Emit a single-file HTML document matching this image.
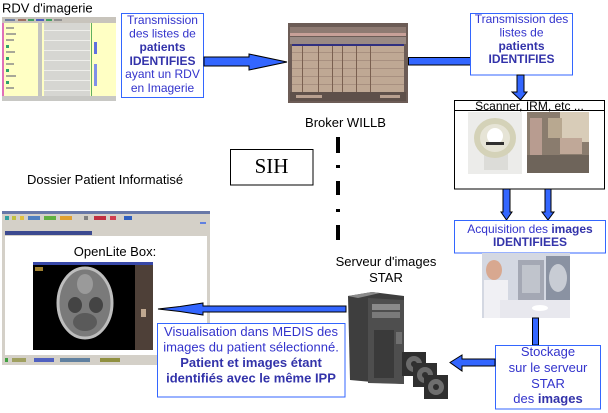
<!DOCTYPE html>
<html><head><meta charset="utf-8">
<style>
html,body{margin:0;padding:0;background:#fff;}
svg{display:block;}
text{font-family:"Liberation Sans",Arial,sans-serif;}
</style></head><body>
<svg width="608" height="413" viewBox="0 0 608 413" xmlns="http://www.w3.org/2000/svg">
<rect width="608" height="413" fill="#fff"/>

<!-- OpenLite window (drawn first, behind box & arrow) -->
<g shape-rendering="crispEdges">
<rect x="2" y="211" width="208" height="154" fill="#d4d0c8"/>
<rect x="2" y="211" width="208" height="3" fill="#6878a8"/>
<rect x="5" y="216" width="4" height="4" fill="#30a0a0"/>
<rect x="12" y="216" width="4" height="4" fill="#c0c040"/>
<rect x="20" y="216" width="4" height="4" fill="#e0c040"/>
<rect x="28" y="216" width="12" height="4" fill="#5080c0"/>
<rect x="44" y="216" width="12" height="4" fill="#60b040"/>
<rect x="60" y="216" width="12" height="4" fill="#e0a030"/>
<rect x="84" y="216" width="4" height="4" fill="#808080"/>
<rect x="94" y="216" width="12" height="4" fill="#c03040"/>
<rect x="110" y="216" width="6" height="4" fill="#d04050"/>
<rect x="124" y="216" width="8" height="4" fill="#3060c0"/>
<rect x="200" y="222" width="6" height="2" fill="#6080e0"/>
<rect x="5" y="231" width="87" height="4" fill="#3c4a90"/>
<rect x="5" y="236" width="202" height="119" fill="#ffffff"/>
<rect x="5" y="358" width="3" height="4" fill="#40a040"/>
<rect x="12" y="358" width="14" height="4" fill="#a0a060"/>
<rect x="34" y="358" width="20" height="4" fill="#5060c0"/>
<rect x="60" y="358" width="30" height="4" fill="#6080a0"/>
<rect x="100" y="358" width="20" height="4" fill="#909040"/>
</g>
<text x="115" y="256" font-size="13" fill="#000" text-anchor="middle">OpenLite Box:</text>
<g>
<rect x="33" y="262" width="120" height="88" fill="#000"/>
<rect x="33" y="262" width="120" height="3" fill="#3848a8"/>
<rect x="135" y="265" width="18" height="85" fill="#4e4038"/>
<rect x="141" y="309" width="5" height="8" fill="#c0a890"/>
<rect x="35" y="267" width="8" height="4" fill="#a08030"/>
<ellipse cx="85" cy="303" rx="27" ry="35" fill="#7a7a7a" stroke="#bdbdbd" stroke-width="3"/>
<ellipse cx="85" cy="284" rx="8" ry="10" fill="#9a9a9a"/>
<ellipse cx="75" cy="305" rx="7" ry="8" fill="#444"/>
<ellipse cx="96" cy="305" rx="7" ry="8" fill="#444"/>
<ellipse cx="85" cy="322" rx="12" ry="9" fill="#5a5a5a"/>
</g>

<!-- RDV screenshot -->
<text x="2" y="12.5" font-size="13" fill="#000">RDV d'imagerie</text>
<g shape-rendering="crispEdges">
<rect x="2" y="17" width="114" height="84" fill="#ffffc4"/>
<rect x="2" y="17" width="114" height="6" fill="#c8c4bc"/>
<rect x="5" y="19" width="10" height="2" fill="#7080a0"/>
<rect x="18" y="19" width="8" height="2" fill="#a07060"/>
<rect x="28" y="19" width="6" height="2" fill="#40a060"/>
<rect x="36" y="19" width="8" height="2" fill="#5060c0"/>
<rect x="46" y="19" width="6" height="2" fill="#40a060"/>
<rect x="54" y="19" width="8" height="2" fill="#909090"/>
<rect x="2" y="23" width="2" height="74" fill="#e070b8"/>
<rect x="38" y="23" width="4" height="74" fill="#c4c4c0"/>
<rect x="44" y="23" width="46" height="74" fill="#d6d6d2"/>
<rect x="44" y="30" width="46" height="1" fill="#eeeeea"/>
<rect x="44" y="40" width="46" height="1" fill="#eeeeea"/>
<rect x="44" y="50" width="46" height="1" fill="#eeeeea"/>
<rect x="44" y="60" width="46" height="1" fill="#eeeeea"/>
<rect x="44" y="70" width="46" height="1" fill="#eeeeea"/>
<rect x="44" y="80" width="46" height="1" fill="#eeeeea"/>
<rect x="44" y="90" width="46" height="1" fill="#eeeeea"/>
<rect x="6" y="27" width="8" height="2" fill="#a8a898"/>
<rect x="6" y="33" width="10" height="2" fill="#a8a898"/>
<rect x="6" y="39" width="8" height="2" fill="#a8a898"/>
<rect x="6" y="45" width="3" height="3" fill="#30a070"/>
<rect x="6" y="51" width="9" height="2" fill="#a8a898"/>
<rect x="6" y="57" width="3" height="3" fill="#30a070"/>
<rect x="6" y="63" width="8" height="2" fill="#a8a898"/>
<rect x="6" y="69" width="3" height="3" fill="#30a070"/>
<rect x="6" y="75" width="10" height="2" fill="#a8a898"/>
<rect x="6" y="81" width="3" height="3" fill="#30a070"/>
<rect x="6" y="87" width="8" height="2" fill="#a8a898"/>
<rect x="91" y="23" width="1" height="74" fill="#60b060"/>
<rect x="94" y="42" width="3" height="12" fill="#6070e0"/>
<rect x="94" y="64" width="3" height="22" fill="#8090e8"/>
<rect x="2" y="96" width="114" height="5" fill="#c8c8c4"/>
</g>

<!-- Box 1 -->
<rect x="121.5" y="13.5" width="82" height="84" fill="#fff" stroke="#3366ff" stroke-width="1"/>
<g font-size="12" fill="#3333cc" text-anchor="middle">
<text x="162.5" y="24">Transmission</text>
<text x="162.5" y="37.5">des listes de</text>
<text x="162.5" y="51" font-weight="bold" fill="#3333aa">patients</text>
<text x="162.5" y="65" font-weight="bold" fill="#3333aa">IDENTIFIES</text>
<text x="162.5" y="78">ayant un RDV</text>
<text x="162.5" y="92">en Imagerie</text>
</g>

<!-- Arrow 1 -->
<polygon points="204,57 249,57 249,54 287,62 249,70 249,66 204,66" fill="#3366ff" stroke="#000" stroke-width="1"/>

<!-- Broker screenshot -->
<g shape-rendering="crispEdges">
<rect x="288" y="23" width="120" height="80" fill="#6c5c56"/>
<rect x="290" y="27" width="116" height="6" fill="#8e7a72"/>
<rect x="290" y="33" width="116" height="3" fill="#c8a098"/>
<rect x="290" y="37" width="116" height="7" fill="#9a8a84"/>
<rect x="292" y="44" width="112" height="2" fill="#303080"/>
<rect x="292" y="46" width="112" height="46" fill="#bfa894"/>
<rect x="292" y="52" width="112" height="1" fill="#a89080"/>
<rect x="292" y="60" width="112" height="1" fill="#a89080"/>
<rect x="292" y="68" width="112" height="1" fill="#a89080"/>
<rect x="292" y="76" width="112" height="1" fill="#a89080"/>
<rect x="292" y="84" width="112" height="1" fill="#a89080"/>
<rect x="302" y="46" width="1" height="46" fill="#7a6050"/>
<rect x="318" y="46" width="1" height="46" fill="#7a6050"/>
<rect x="332" y="46" width="1" height="46" fill="#7a6050"/>
<rect x="342" y="46" width="1" height="46" fill="#7a6050"/>
<rect x="356" y="46" width="1" height="46" fill="#7a6050"/>
<rect x="370" y="46" width="1" height="46" fill="#7a6050"/>
<rect x="290" y="92" width="116" height="9" fill="#5e504a"/>
<rect x="296" y="95" width="26" height="3" fill="#b8a090"/>
<rect x="380" y="95" width="20" height="3" fill="#b8a090"/>
</g>
<text x="345.5" y="127" font-size="13" fill="#000" text-anchor="middle">Broker WILLB</text>

<!-- connector broker -> box 2 -->
<rect x="408.5" y="57.5" width="62" height="7.5" fill="#3366ff" stroke="#000" stroke-width="1"/>

<!-- Box 2 -->
<rect x="470.5" y="13.5" width="102" height="61.5" fill="#fff" stroke="#3366ff" stroke-width="1"/>
<g font-size="12" fill="#3333cc" text-anchor="middle">
<text x="521.5" y="23">Transmission des</text>
<text x="521.5" y="36.5">listes de</text>
<text x="521.5" y="50" font-weight="bold" fill="#3333aa">patients</text>
<text x="521.5" y="63" font-weight="bold" fill="#3333aa">IDENTIFIES</text>
</g>

<!-- Down arrow into scanner -->
<polygon points="517,75 524,75 524,92 527,92 520.5,100 512,92 517,92" fill="#3366ff" stroke="#000" stroke-width="1"/>

<!-- Scanner box -->
<rect x="454.5" y="100.5" width="150" height="88.5" fill="#fff" stroke="#000" stroke-width="1"/>
<text x="529.5" y="110" font-size="12" fill="#000" text-anchor="middle">Scanner, IRM, etc ...</text>
<line x1="454.5" y1="110.5" x2="604.5" y2="110.5" stroke="#000" stroke-width="1"/>
<!-- CT image -->
<rect x="468" y="112" width="54" height="62" fill="#ececea"/>
<rect x="484" y="148" width="24" height="22" fill="#dcdcd8"/>
<ellipse cx="495" cy="138" rx="18" ry="17" fill="#e6e4d6" stroke="#d4d2b8" stroke-width="6"/>
<ellipse cx="495" cy="136" rx="8" ry="8" fill="#ffffff"/>
<rect x="486" y="142" width="18" height="3" fill="#303030"/>
<!-- room photo -->
<rect x="527" y="112" width="62" height="61" fill="#8a7c6e"/>
<rect x="560" y="112" width="29" height="30" fill="#d8ccb8"/>
<rect x="548" y="118" width="14" height="20" fill="#b8a890"/>
<rect x="530" y="118" width="12" height="50" fill="#b89c90"/>
<rect x="527" y="155" width="62" height="18" fill="#6e645a"/>
<rect x="560" y="138" width="22" height="16" fill="#c0a898"/>

<!-- two down arrows -->
<polygon points="503,189 510,189 510,212 512,212 506.5,220 501,212 503,212" fill="#3366ff" stroke="#000" stroke-width="1"/>
<polygon points="545,189 551,189 551,212 554,212 548,220 542,212 545,212" fill="#3366ff" stroke="#000" stroke-width="1"/>

<!-- Acquisition box -->
<rect x="454.5" y="220.5" width="151" height="32.5" fill="#fff" stroke="#3366ff" stroke-width="1"/>
<g font-size="12" fill="#3333cc" text-anchor="middle">
<text x="530" y="233">Acquisition des <tspan font-weight="bold" fill="#3333aa">images</tspan></text>
<text x="530" y="246" font-weight="bold" fill="#3333aa">IDENTIFIEES</text>
</g>

<!-- Acquisition photo -->
<rect x="482" y="253" width="88" height="65" fill="#d4d8e2"/>
<rect x="518" y="260" width="26" height="40" fill="#a4a8b4"/>
<rect x="546" y="256" width="24" height="44" fill="#8a92a2"/>
<ellipse cx="558" cy="278" rx="9" ry="14" fill="#c8ccd4"/>
<rect x="522" y="265" width="18" height="28" fill="#c0c4cc"/>
<ellipse cx="494" cy="270" rx="8" ry="10" fill="#d8a890"/>
<rect x="484" y="280" width="24" height="38" fill="#f0f0f4"/>
<rect x="500" y="300" width="70" height="18" fill="#e8e8ee"/>
<ellipse cx="540" cy="308" rx="8" ry="3" fill="#ffffff"/>

<!-- connector photo -> stockage -->
<rect x="532.5" y="318" width="6" height="27" fill="#3366ff" stroke="#000" stroke-width="1"/>

<!-- Stockage box -->
<rect x="495.5" y="345.5" width="105" height="63.5" fill="#fff" stroke="#3366ff" stroke-width="1"/>
<g font-size="13" fill="#3333cc" text-anchor="middle">
<text x="548" y="356">Stockage</text>
<text x="548" y="372">sur le serveur</text>
<text x="548" y="388">STAR</text>
<text x="548" y="403">des <tspan font-weight="bold" fill="#3333aa">images</tspan></text>
</g>

<!-- arrow stockage -> server -->
<polygon points="495,359 462,359 462,355 450,362.5 462,371 462,366 495,366" fill="#3366ff" stroke="#000" stroke-width="1"/>

<!-- Server -->
<text x="386" y="266" font-size="13" fill="#000" text-anchor="middle">Serveur d'images</text>
<text x="386" y="282" font-size="13" fill="#000" text-anchor="middle">STAR</text>
<polygon points="348,296 372,292 404,296 404,384 372,382 350,380" fill="#3e3e3e"/>
<polygon points="348,296 372,292 380,293 358,298" fill="#8a8a8a"/>
<polygon points="368,298 404,300 404,384 368,383" fill="#4e4e4e"/>
<rect x="372" y="304" width="28" height="6" fill="#8a8a8a"/>
<rect x="372" y="312" width="28" height="6" fill="#7a7a7a"/>
<rect x="374" y="330" width="20" height="48" fill="#3a3a3a"/>
<rect x="396" y="332" width="6" height="12" fill="#707070"/>
<g>
<rect x="402" y="352" width="24" height="24" fill="#2e2e2e"/>
<circle cx="414" cy="364" r="8" fill="#6a6a6a"/>
<circle cx="414" cy="364" r="3" fill="#2e2e2e"/>
<rect x="413" y="363" width="24" height="24" fill="#303030"/>
<circle cx="425" cy="375" r="8" fill="#6a6a6a"/>
<circle cx="425" cy="375" r="3" fill="#303030"/>
<rect x="424" y="375" width="24" height="24" fill="#2e2e2e"/>
<circle cx="436" cy="387" r="8" fill="#6e6e6e"/>
<circle cx="436" cy="387" r="3" fill="#2e2e2e"/>
</g>

<!-- long left arrow -->
<polygon points="158,309 180,306.5 203,303 203,306 346,306 346,312 203,312 203,315 180,311.5" fill="#3366ff" stroke="#000" stroke-width="1"/>

<!-- Visualisation box -->
<rect x="157.5" y="323.5" width="187.5" height="73.5" fill="#fff" stroke="#3366ff" stroke-width="1"/>
<g font-size="13" fill="#3333cc" text-anchor="middle">
<text x="251" y="336">Visualisation dans MEDIS des</text>
<text x="251" y="351.5">images du patient sélectionné.</text>
<text x="251" y="367" font-weight="bold" fill="#3333aa">Patient et images étant</text>
<text x="251" y="382.5" font-weight="bold" fill="#3333aa">identifiés avec le même IPP</text>
</g>

<!-- Dashed line -->
<g fill="#000" shape-rendering="crispEdges">
<rect x="336" y="137" width="4" height="16"/>
<rect x="336" y="165" width="4" height="3"/>
<rect x="336" y="181" width="4" height="14"/>
<rect x="336" y="209" width="4" height="3"/>
<rect x="336" y="225" width="4" height="15"/>
</g>

<!-- SIH -->
<rect x="230.5" y="149.5" width="82.5" height="35.5" fill="#fff" stroke="#000" stroke-width="1"/>
<text x="271.5" y="173" font-size="21" fill="#000" text-anchor="middle" style="font-family:'Liberation Serif',serif">SIH</text>

<text x="27" y="184" font-size="13" fill="#000">Dossier Patient Informatisé</text>

</svg>
</body></html>
